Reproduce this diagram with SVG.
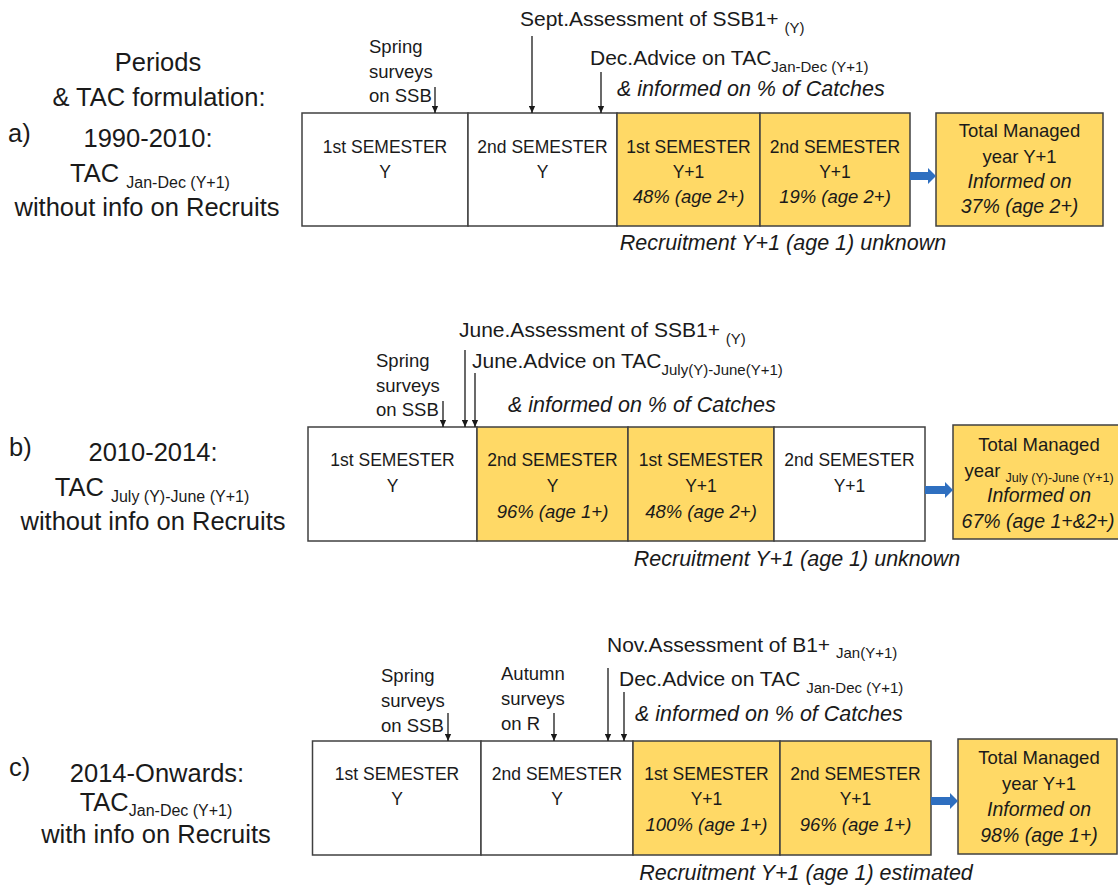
<svg xmlns="http://www.w3.org/2000/svg" width="1118" height="888" viewBox="0 0 1118 888">
<style>
text{font-family:"Liberation Sans",Arial,sans-serif;fill:#1a1a1a}
.lbl{font-size:25.5px;text-anchor:middle}
.lbls{font-size:25.5px}
.sub{font-size:16px}
.cell{font-size:17.5px;text-anchor:middle}
.it{font-style:italic;font-size:18.5px;text-anchor:middle}
.tot{font-size:18.5px;text-anchor:middle}
.toti{font-style:italic;font-size:19.5px;text-anchor:middle}
.ann{font-size:21px}
.anni{font-size:21.5px;font-style:italic}
.asub{font-size:15px}
.srv{font-size:18.5px}
.rec{font-size:21.5px;font-style:italic;text-anchor:middle}
.w{fill:#ffffff;stroke:#404040;stroke-width:1.5}
.y{fill:#ffd966;stroke:#404040;stroke-width:1.5}
.ar{stroke:#1a1a1a;stroke-width:1.3;fill:none;marker-end:url(#ah)}
.blue{fill:#2e6fc0}
</style>
<defs>
<marker id="ah" viewBox="0 0 10 10" refX="10" refY="5" markerWidth="9" markerHeight="7" markerUnits="userSpaceOnUse" orient="auto">
<path d="M0,0.5 L10,5 L0,9.5 z" fill="#1a1a1a"/>
</marker>
</defs>

<!-- Section a -->
<g id="label-a">
<text class="lbl" x="158" y="71">Periods</text>
<text class="lbl" x="159" y="106">&amp; TAC formulation:</text>
<text class="lbls" x="8" y="142">a)</text>
<text class="lbl" x="148" y="147">1990-2010:</text>
<text class="lbl" x="150" y="182">TAC <tspan class="sub" dy="6">Jan-Dec (Y+1)</tspan></text>
<text class="lbl" x="147" y="216">without info on Recruits</text>
</g>
<g id="timeline-a">
<rect class="w" x="302" y="113" width="166" height="113"/>
<rect class="w" x="468" y="113" width="149" height="113"/>
<rect class="y" x="617" y="113" width="143" height="113"/>
<rect class="y" x="760" y="113" width="150" height="113"/>
<text class="cell" x="385" y="153">1st SEMESTER</text>
<text class="cell" x="385" y="178">Y</text>
<text class="cell" x="542.5" y="153">2nd SEMESTER</text>
<text class="cell" x="542.5" y="178">Y</text>
<text class="cell" x="688.5" y="153">1st SEMESTER</text>
<text class="cell" x="688.5" y="178">Y+1</text>
<text class="it" x="688.5" y="203">48% (age 2+)</text>
<text class="cell" x="835" y="153">2nd SEMESTER</text>
<text class="cell" x="835" y="178">Y+1</text>
<text class="it" x="835" y="203">19% (age 2+)</text>
</g>
<g id="total-a">
<rect class="y" x="936" y="113" width="167" height="113"/>
<text class="tot" x="1019.5" y="137">Total Managed</text>
<text class="tot" x="1019.5" y="163">year Y+1</text>
<text class="toti" x="1019.5" y="188">Informed on</text>
<text class="toti" x="1019.5" y="213">37% (age 2+)</text>
</g>
<g id="notes-a">
<text class="srv" x="369" y="53">Spring</text>
<text class="srv" x="369" y="78">surveys</text>
<text class="srv" x="369" y="102">on SSB</text>
<text class="ann" x="520" y="26">Sept.Assessment of SSB1+ <tspan class="asub" dy="7">(Y)</tspan></text>
<text class="ann" x="590" y="65">Dec.Advice on TAC<tspan class="asub" dy="7">Jan-Dec  (Y+1)</tspan></text>
<text class="anni" x="617" y="96">&amp; informed on % of Catches</text>
<text class="rec" x="783" y="250">Recruitment Y+1 (age 1) unknown</text>
</g>

<!-- Section b -->
<g id="label-b">
<text class="lbls" x="9" y="456">b)</text>
<text class="lbl" x="153" y="461">2010-2014:</text>
<text class="lbl" x="152" y="496">TAC <tspan class="sub" dy="6">July (Y)-June (Y+1)</tspan></text>
<text class="lbl" x="153" y="530">without info on Recruits</text>
</g>
<g id="timeline-b">
<rect class="w" x="308" y="427" width="169" height="114"/>
<rect class="y" x="477" y="427" width="151" height="114"/>
<rect class="y" x="628" y="427" width="146" height="114"/>
<rect class="w" x="774" y="427" width="151" height="114"/>
<text class="cell" x="392.5" y="466">1st SEMESTER</text>
<text class="cell" x="392.5" y="492">Y</text>
<text class="cell" x="552.5" y="466">2nd SEMESTER</text>
<text class="cell" x="552.5" y="492">Y</text>
<text class="it" x="552.5" y="518">96% (age 1+)</text>
<text class="cell" x="701" y="466">1st SEMESTER</text>
<text class="cell" x="701" y="492">Y+1</text>
<text class="it" x="701" y="518">48% (age 2+)</text>
<text class="cell" x="849.5" y="466">2nd SEMESTER</text>
<text class="cell" x="849.5" y="492">Y+1</text>
</g>
<g id="total-b">
<rect class="y" x="953" y="425" width="172" height="114"/>
<text class="tot" x="1039" y="451">Total Managed</text>
<text class="tot" x="1039" y="477">year <tspan font-size="12.5" dy="5">July (Y)-June (Y+1)</tspan></text>
<text class="toti" x="1039" y="502">Informed on</text>
<text class="toti" x="1038" y="528" font-size="18.5">67% (age 1+&amp;2+)</text>
</g>
<g id="notes-b">
<text class="srv" x="376" y="367">Spring</text>
<text class="srv" x="376" y="392">surveys</text>
<text class="srv" x="376" y="416">on SSB</text>
<text class="ann" x="459" y="337">June.Assessment of SSB1+ <tspan class="asub" dy="7">(Y)</tspan></text>
<text class="ann" x="472" y="368">June.Advice on TAC<tspan class="asub" dy="7">July(Y)-June(Y+1)</tspan></text>
<text class="anni" x="508" y="412">&amp; informed on % of Catches</text>
<text class="rec" x="797" y="566">Recruitment Y+1 (age 1) unknown</text>
</g>

<!-- Section c -->
<g id="label-c">
<text class="lbls" x="9" y="776">c)</text>
<text class="lbl" x="157" y="782">2014-Onwards:</text>
<text class="lbl" x="156" y="811">TAC<tspan class="sub" dy="5">Jan-Dec (Y+1)</tspan></text>
<text class="lbl" x="156" y="843">with info on Recruits</text>
</g>
<g id="timeline-c">
<rect class="w" x="312.5" y="741" width="168.5" height="114"/>
<rect class="w" x="481" y="741" width="152" height="114"/>
<rect class="y" x="633" y="741" width="147" height="114"/>
<rect class="y" x="780" y="741" width="151" height="114"/>
<text class="cell" x="397" y="780">1st SEMESTER</text>
<text class="cell" x="397" y="805">Y</text>
<text class="cell" x="557" y="780">2nd SEMESTER</text>
<text class="cell" x="557" y="805">Y</text>
<text class="cell" x="706.5" y="780">1st SEMESTER</text>
<text class="cell" x="706.5" y="805">Y+1</text>
<text class="it" x="706.5" y="831">100% (age 1+)</text>
<text class="cell" x="855.5" y="780">2nd SEMESTER</text>
<text class="cell" x="855.5" y="805">Y+1</text>
<text class="it" x="855.5" y="831">96% (age 1+)</text>
</g>
<g id="total-c">
<rect class="y" x="958" y="739" width="159" height="115"/>
<text class="tot" x="1039" y="764">Total Managed</text>
<text class="tot" x="1039" y="790">year Y+1</text>
<text class="toti" x="1039" y="816">Informed on</text>
<text class="toti" x="1039" y="842">98% (age 1+)</text>
</g>
<g id="notes-c">
<text class="srv" x="381" y="682">Spring</text>
<text class="srv" x="381" y="707">surveys</text>
<text class="srv" x="381" y="732">on SSB</text>
<text class="srv" x="501" y="680">Autumn</text>
<text class="srv" x="501" y="705">surveys</text>
<text class="srv" x="501" y="730">on R</text>
<text class="ann" x="607" y="652">Nov.Assessment of B1+ <tspan class="asub" dy="6">Jan(Y+1)</tspan></text>
<text class="ann" x="619" y="686">Dec.Advice on TAC <tspan class="asub" dy="7">Jan-Dec  (Y+1)</tspan></text>
<text class="anni" x="635" y="721">&amp; informed on % of Catches</text>
<text class="rec" x="806" y="880">Recruitment Y+1 (age 1) estimated</text>
</g>

<g id="connectors">
<line class="ar" x1="435" y1="87" x2="435" y2="113"/>
<line class="ar" x1="532" y1="36" x2="532" y2="113"/>
<line class="ar" x1="601" y1="72" x2="601" y2="113"/>
<polygon class="blue" points="910,172 928,172 928,168 936,176 928,184 928,180 910,180"/>
<line class="ar" x1="443" y1="401" x2="443" y2="427"/>
<line class="ar" x1="465" y1="350" x2="465" y2="427"/>
<line class="ar" x1="475" y1="373" x2="475" y2="427"/>
<polygon class="blue" points="925,486 945,486 945,482 953,490 945,498 945,494 925,494"/>
<line class="ar" x1="448" y1="713" x2="448" y2="741"/>
<line class="ar" x1="554" y1="713" x2="554" y2="741"/>
<line class="ar" x1="608" y1="668" x2="608" y2="741"/>
<line class="ar" x1="624" y1="692" x2="624" y2="741"/>
<polygon class="blue" points="931,797 950,797 950,793 958,801 950,809 950,805 931,805"/>
</g>
</svg>
